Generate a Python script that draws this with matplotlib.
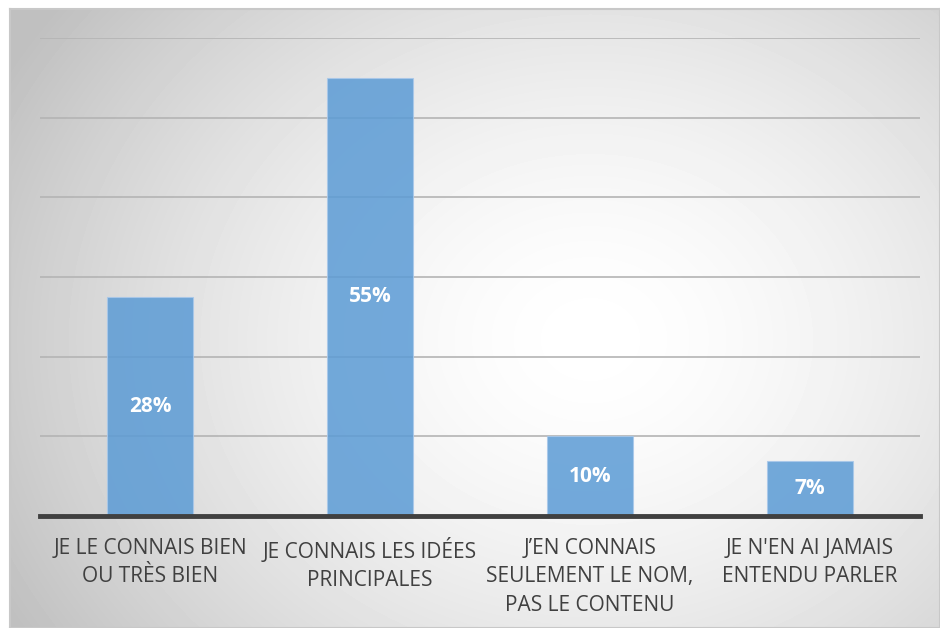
import matplotlib
matplotlib.use('Agg')
import matplotlib.pyplot as plt
import numpy as np

# Données
categories = [
    "JE LE CONNAIS BIEN\nOU TRÈS BIEN",
    "JE CONNAIS LES IDÉES\nPRINCIPALES",
    "J’EN CONNAIS\nSEULEMENT LE NOM,\nPAS LE CONTENU",
    "JE N'EN AI JAMAIS\nENTENDU PARLER",
]
values = [27.5, 55, 10, 6.9]
value_labels = ["28%", "55%", "10%", "7%"]
y_ticks = [0, 10, 20, 30, 40, 50, 60]

W, H = 940, 628
fig = plt.figure(figsize=(W / 100, H / 100), dpi=100)
fig.patch.set_facecolor('white')

# Fond en dégradé radial
bg = fig.add_axes([10 / W, 0, (W - 10) / W, (H - 9) / H])
bw, bh = W - 10, H - 9
xx, yy = np.meshgrid(np.arange(bw), np.arange(bh))
cx, cy = 580, 330
d = np.sqrt((xx - cx) ** 2 + ((yy - cy) * 1.2) ** 2)
d = d / d.max()
v = 1.0 - 0.25 * np.clip(d * 1.05, 0, 1) ** 1.6
bg.imshow(v, cmap='gray', vmin=0, vmax=1, aspect='auto', interpolation='bilinear')
bg.set_xticks([])
bg.set_yticks([])
for s in bg.spines.values():
    s.set_color('#c8c8c8')
    s.set_linewidth(1.5)

# Axe principal
ax = fig.add_axes([40 / W, (H - 516) / H, 880 / W, (516 - 38) / H])
ax.set_facecolor('none')
x = np.arange(len(categories))
ax.set_xlim(-0.5, len(categories) - 0.5)
ax.set_ylim(0, 60)
ax.set_yticks(y_ticks)
ax.yaxis.grid(True, color='#b4b4b4', linewidth=1.2)
ax.set_axisbelow(True)
ax.tick_params(axis='y', length=0, labelleft=False)
ax.tick_params(axis='x', length=0, pad=16)
for name, s in ax.spines.items():
    s.set_visible(False)
ax.axhline(0, color='#404040', linewidth=3.5, zorder=5, clip_on=False)

bars = ax.bar(x, values, width=0.39, color='#5b9bd5', alpha=0.85,
              edgecolor='#a9c8ea', linewidth=0.8, zorder=3)
for xi, val, lab in zip(x, values, value_labels):
    ax.text(xi, val / 2, lab, ha='center', va='center', color='white',
            fontsize=15, fontweight='bold', family='Open Sans', zorder=6)

ax.set_xticks(x)
ax.set_xticklabels(categories, fontsize=15, color='#404040', family='Open Sans',
                   linespacing=1.45, va='top')

fig.savefig('out.png', dpi=100)
